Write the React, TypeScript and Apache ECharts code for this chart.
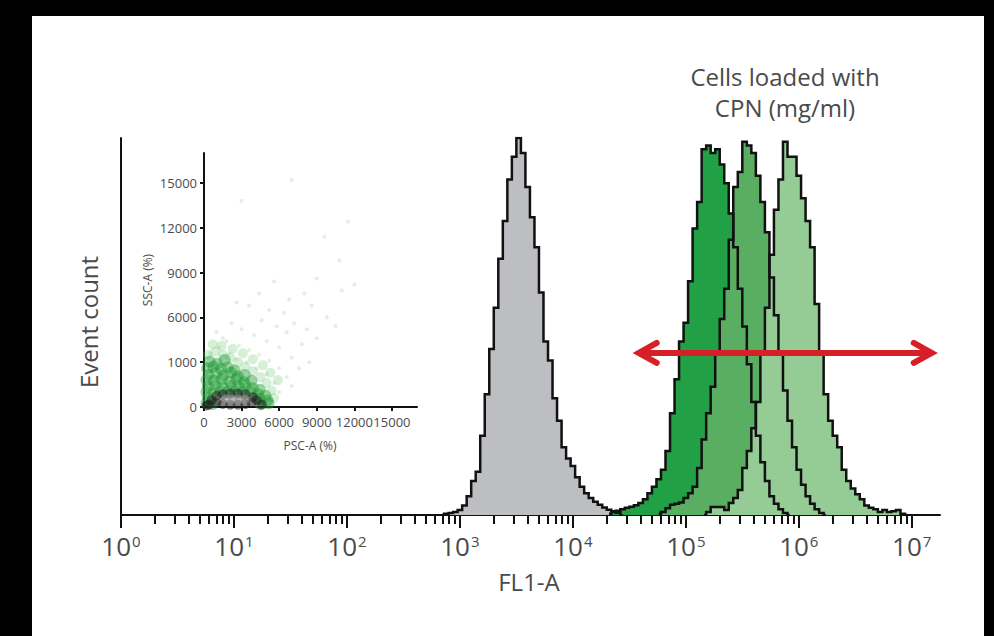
import React, { useEffect, useRef } from "react";
import * as echarts from "echarts";

// ---------- histogram data (x in decades of FL1-A, bins of 0.04 decade) ----------
const BIN = 0.04;
const grayStart = 2.84;
const grayCounts = [0, 0.3, 0.5, 0.8, 1.3, 2.5, 5, 9, 11.5, 21, 32, 44, 55, 68, 78, 89, 95, 100, 96, 87, 79, 71, 59, 46, 41, 31, 25, 18, 15, 13, 10, 7.5, 5.8, 4.5, 3.5, 2.7, 2, 1.4, 1, 0.6, 0];
const darkStart = 4.32;
const darkCounts = [0.3, 0.8, 1.1, 1.5, 1.9, 2.2, 2.6, 3.2, 4.2, 5.8, 7.5, 9.5, 12, 17, 27, 36, 46, 51, 62, 76, 83, 97, 98, 96, 97, 93, 88, 80, 71, 60, 50, 40, 30, 21, 14, 9, 5, 3, 1.5, 0.5, 0];
const mediumStart = 4.76;
const mediumCounts = [0.3, 0.8, 1.8, 2.7, 3.0, 3.3, 4.5, 5.8, 7.5, 12.5, 20, 27, 34, 43, 52, 60, 73, 87, 91, 99, 98, 96, 90, 83, 75, 63, 53, 43, 33, 25, 18, 12, 8, 5, 3, 1.5, 0.5, 0];
const lightStart = 5.16;
const lightCounts = [0, 0.8, 2.1, 2.1, 2.1, 1.3, 3.2, 4.5, 6.6, 12.5, 17, 23, 30, 43, 55, 69, 81, 89, 99, 95, 95, 90, 84, 78, 71, 56, 43, 32, 25, 21, 18, 12, 9, 7, 5.5, 4.2, 2.5, 1.9, 1.5, 0.8, 1.3, 0.8, 1.0, 1.3, 0.3, 0];

// ---------- axis ticks ----------
const xTickExponents = [0, 1, 2, 3, 4, 5, 6, 7];
const minorMultipliers = [2, 3, 4, 5, 6, 7, 8, 9];
const xMaxExponent = 7.25;
const yMax = 100;

// ---------- red double arrow (decades, count level) ----------
const arrowFrom = 4.53;
const arrowTo = 7.23;
const arrowLevel = 43;

// ---------- inset scatter ----------
const insetTicks = [0, 3000, 6000, 9000, 12000, 15000];
const insetXLabels = ["0", "3000", "6000", "9000", "12000", "15000"];
const insetYLabels = ["0", "1000", "6000", "9000", "12000", "15000"];
const insetMax = 17000;

const insetDense = [
  [450, 3050], [1050, 2900], [1650, 3150],
  [250, 2600], [750, 2700], [1350, 2550], [1900, 2650], [2450, 2450],
  [350, 2150], [950, 2250], [1550, 2100], [2150, 2300], [2700, 2050], [3250, 2150],
  [200, 1800], [800, 1750], [1400, 1850], [2050, 1700], [2600, 1850], [3200, 1650], [3800, 1750],
  [300, 1350], [900, 1450], [1500, 1300], [2150, 1400], [2750, 1350], [3300, 1450], [3900, 1250], [4450, 1150],
  [200, 1000], [750, 950], [1300, 1050], [1900, 1000], [2500, 1050], [3100, 950], [3700, 1000], [4300, 850], [4900, 750],
  [300, 600], [4450, 550], [5050, 450],
  [200, 250], [700, 200], [4500, 200], [5150, 250],
];
const insetMid = [
  [300, 3500], [900, 3700], [1500, 3500], [2100, 3300], [2700, 3000], [3300, 2700], [3900, 2400], [4500, 2000],
  [5000, 1600], [5400, 1100], [5600, 600], [700, 4200], [1400, 4100], [2300, 3900], [3100, 3600], [3900, 3200],
  [4700, 2800], [5300, 2300], [5900, 1800],
];
const insetSparse = [
  [500, 3600], [1200, 4000], [2000, 3600], [2600, 3200], [3400, 3000], [4200, 2600], [5000, 2200], [5600, 1600], [6000, 1000], [5400, 400],
  [1800, 4400], [2800, 4100], [3600, 3800], [4400, 3500], [5200, 3100], [6000, 2600], [6600, 2000], [7000, 1400],
  [3000, 5200], [4000, 4800], [5000, 4400], [6000, 4000], [7000, 3300], [7600, 2600],
  [2200, 5600], [4600, 5800], [5800, 5400], [6600, 5000], [7800, 4200], [8400, 3000],
  [3600, 6800], [5200, 6500], [6400, 6300], [7200, 5600], [8200, 5200], [9000, 4600],
  [1000, 5000], [2600, 7000], [4400, 7600], [6800, 7200], [8600, 6800], [9800, 6000], [10500, 5400],
  [8000, 7600], [11000, 7800], [12000, 8200], [9600, 11400], [11500, 12400], [3000, 13800], [7000, 15200],
  [1500, 4600], [9000, 8600], [10800, 9800], [5600, 8400],
];
const insetCore = [
  [600, 450], [1000, 300], [1000, 750], [1500, 200], [1500, 850], [2100, 150], [2100, 900], [2700, 150], [2700, 900],
  [3300, 200], [3300, 850], [3800, 300], [3900, 650], [4200, 450], [400, 150], [200, 100], [4600, 150],
];
const insetHighlight = [[1800, 550], [2300, 520], [2800, 500], [3300, 520]];

const FONT = "'Open Sans', 'Noto Sans', sans-serif";
const TEXT = "#4a4a4a";

function hist(name: string, start: number, counts: number[], color: string) {
  return {
    type: "line",
    name,
    step: "middle",
    symbol: "none",
    silent: true,
    xAxisIndex: 0,
    yAxisIndex: 0,
    data: counts.map((c, i) => [+(start + i * BIN).toFixed(3), c]),
    lineStyle: { color: "#111", width: 2.5, join: "miter" },
    areaStyle: { color, opacity: 1 },
    itemStyle: { color },
  };
}

function scatter(name: string, data: number[][], color: string, size: number, opacity: number) {
  return {
    type: "scatter",
    name,
    xAxisIndex: 2,
    yAxisIndex: 1,
    symbolSize: size,
    silent: true,
    data,
    itemStyle: { color, opacity },
  };
}

const minorTicks: number[] = [];
xTickExponents.forEach((e) => {
  minorMultipliers.forEach((m) => {
    const v = e + Math.log10(m);
    if (v < xMaxExponent) minorTicks.push(+v.toFixed(4));
  });
});

const insetAxisCommon = {
  axisLine: { show: true, onZero: false, lineStyle: { color: "#111", width: 2 } },
  axisTick: { show: true, customValues: insetTicks, length: 4, lineStyle: { color: "#111", width: 2 } },
  splitLine: { show: false },
};

export default function App() {
  const ref = useRef<HTMLDivElement>(null);
  useEffect(() => {
    const el = ref.current;
    if (!el) return;
    const chart = echarts.init(el, undefined, { renderer: "svg" });
    chart.setOption({
      animation: false,
      backgroundColor: "transparent",
      grid: [
        { left: 121, top: 138, width: 819, height: 377 },
        { left: 204, top: 153, width: 213, height: 254 },
      ],
      xAxis: [
        {
          gridIndex: 0,
          type: "value",
          min: 0,
          max: xMaxExponent,
          axisLine: { show: true, onZero: false, lineStyle: { color: "#111", width: 2 } },
          axisTick: { show: true, customValues: xTickExponents, length: 13, lineStyle: { color: "#111", width: 2 } },
          axisLabel: {
            customValues: xTickExponents,
            margin: 18,
            formatter: (v: number) => `{b|10}{s|${Math.round(v)}}`,
            rich: {
              b: { fontSize: 26, color: TEXT, fontFamily: FONT },
              s: { fontSize: 15, color: TEXT, fontFamily: FONT, verticalAlign: "top", padding: [0, 0, 0, 1] },
            },
          },
          splitLine: { show: false },
        },
        {
          gridIndex: 0,
          type: "value",
          position: "bottom",
          min: 0,
          max: xMaxExponent,
          axisLine: { show: false },
          axisTick: { show: true, customValues: minorTicks, length: 9, lineStyle: { color: "#111", width: 2 } },
          axisLabel: { show: false },
          splitLine: { show: false },
        },
        {
          gridIndex: 1,
          type: "value",
          min: 0,
          max: insetMax,
          ...insetAxisCommon,
          axisLabel: {
            customValues: insetTicks,
            margin: 8,
            fontSize: 13,
            color: TEXT,
            fontFamily: FONT,
            formatter: (v: number) => insetXLabels[insetTicks.indexOf(v)] ?? "",
          },
        },
      ],
      yAxis: [
        {
          gridIndex: 0,
          type: "value",
          min: 0,
          max: yMax,
          axisLine: { show: true, lineStyle: { color: "#111", width: 2 } },
          axisTick: { show: false },
          axisLabel: { show: false },
          splitLine: { show: false },
        },
        {
          gridIndex: 1,
          type: "value",
          min: 0,
          max: insetMax,
          ...insetAxisCommon,
          axisLabel: {
            customValues: insetTicks,
            margin: 7,
            fontSize: 13,
            color: TEXT,
            fontFamily: FONT,
            formatter: (v: number) => insetYLabels[insetTicks.indexOf(v)] ?? "",
          },
        },
      ],
      series: [
        hist("Control", grayStart, grayCounts, "#bdbec2"),
        hist("CPN low", darkStart, darkCounts, "#21a045"),
        hist("CPN mid", mediumStart, mediumCounts, "#5aae61"),
        hist("CPN high", lightStart, lightCounts, "#95cb95"),
        scatter("sparse", insetSparse, "#3f9f4a", 4, 0.16),
        scatter("mid", insetMid, "#5cbf5f", 10, 0.25),
        scatter("dense", insetDense, "#1f9a34", 12, 0.45),
        scatter("core", insetCore, "#1c1c1c", 10, 0.55),
        scatter("highlight", insetHighlight, "#8f8f8f", 9, 0.6),
      ],
    });

    const a = chart.convertToPixel({ xAxisIndex: 0, yAxisIndex: 0 }, [arrowFrom, arrowLevel]) as number[];
    const b = chart.convertToPixel({ xAxisIndex: 0, yAxisIndex: 0 }, [arrowTo, arrowLevel]) as number[];
    const red = "#d71f27";
    const lw = 6;
    const lx = a[0] + 6;
    const rx = b[0] - 6;
    const y = a[1];
    const arrowStyle = { stroke: red, lineWidth: lw, lineCap: "round", lineJoin: "miter", fill: null };

    const text = (t: string, x: number, yy: number, size: number, rotation = 0) => ({
      type: "text",
      x,
      y: yy,
      rotation,
      silent: true,
      z: 100,
      style: {
        text: t,
        fill: TEXT,
        fontSize: size,
        fontFamily: FONT,
        align: "center",
        verticalAlign: "middle",
        textAlign: "center",
        textVerticalAlign: "middle",
      },
    });

    chart.setOption({
      graphic: [
        text("Cells loaded with", 785, 76, 24),
        text("CPN (mg/ml)", 785, 107, 24),
        text("FL1-A", 529, 581, 24),
        text("Event count", 88, 322, 24, Math.PI / 2),
        text("SSC-A (%)", 147, 280, 12, Math.PI / 2),
        text("PSC-A (%)", 310, 445, 12),
        { type: "polyline", z: 100, silent: true, shape: { points: [[lx, y], [rx, y]] }, style: { ...arrowStyle, lineCap: "butt" } },
        { type: "polyline", z: 100, silent: true, shape: { points: [[lx + 18, y - 10], [lx, y], [lx + 18, y + 10]] }, style: arrowStyle },
        { type: "polyline", z: 100, silent: true, shape: { points: [[rx - 18, y - 10], [rx, y], [rx - 18, y + 10]] }, style: arrowStyle },
      ],
    });

    return () => chart.dispose();
  }, []);

  return (
    <div style={{ position: "fixed", left: 0, top: 0, width: 994, height: 636, background: "#000" }}>
      <div style={{ position: "absolute", left: 32, top: 16, width: 952, height: 620, background: "#fff" }} />
      <div ref={ref} style={{ position: "absolute", left: 0, top: 0, width: 994, height: 636 }} />
    </div>
  );
}
